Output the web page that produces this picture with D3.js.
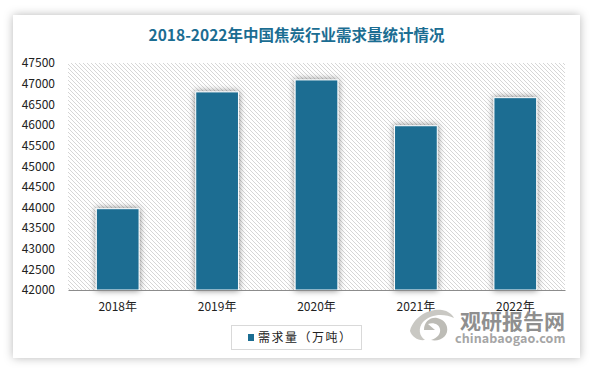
<!DOCTYPE html>
<html lang="zh">
<head>
  <meta charset="UTF-8">
  <title>2018-2022年中国焦炭行业需求量统计情况</title>
  <script src="https://d3js.org/d3.v7.min.js"></script>
  <style>
    html, body { margin: 0; padding: 0; background: #fff; overflow: hidden; }
    svg { display: block; }
    text { font-family: "Noto Sans CJK SC", "Noto Sans", sans-serif; }
  </style>
</head>
<body>
<script>
  const titleText = '2018-2022年中国焦炭行业需求量统计情况';
  const years = ['2018年', '2019年', '2020年', '2021年', '2022年'];
  const demand = [43970, 46800, 47090, 45980, 46660];
  const yTicks = [42000, 42500, 43000, 43500, 44000, 44500, 45000, 45500, 46000, 46500, 47000, 47500];
  const seriesName = '需求量（万吨）';

  const width = 593, height = 373;
  const plot = {left: 68, right: 565, top: 63, bottom: 290};
  const blue = '#1b6d92';

  const svg = d3.select('body').append('svg').attr('width', width).attr('height', height);
  const defs = svg.append('defs');

  // soft shadows for the card and the bars
  const cardShadow = defs.append('filter').attr('id', 'cardShadow')
    .attr('x', '-5%').attr('y', '-8%').attr('width', '110%').attr('height', '116%');
  cardShadow.append('feDropShadow').attr('dx', 0).attr('dy', 0)
    .attr('stdDeviation', 5).attr('flood-color', '#000').attr('flood-opacity', 0.28);

  const barShadow = defs.append('filter').attr('id', 'barShadow')
    .attr('x', '-30%').attr('y', '-10%').attr('width', '160%').attr('height', '120%');
  barShadow.append('feDropShadow').attr('dx', 0).attr('dy', 0)
    .attr('stdDeviation', 3).attr('flood-color', '#000').attr('flood-opacity', 0.5);

  // diagonal hatch behind the bars
  const hatch = defs.append('pattern').attr('id', 'hatch').attr('patternUnits', 'userSpaceOnUse')
    .attr('width', 4).attr('height', 4);
  hatch.append('rect').attr('width', 4).attr('height', 4).attr('fill', '#fff');
  hatch.append('path').attr('d', 'M0,0 L4,4 M-1,3 L1,5 M3,-1 L5,1')
    .attr('stroke', '#d6d6d6').attr('stroke-width', 1).attr('fill', 'none');

  svg.append('rect').attr('x', 13).attr('y', 15).attr('width', 567).attr('height', 343)
    .attr('fill', '#fff').attr('filter', 'url(#cardShadow)');

  svg.append('text').attr('x', 296.5).attr('y', 41).attr('text-anchor', 'middle')
    .attr('font-size', 15.5).attr('font-weight', 700).attr('fill', blue).text(titleText);

  svg.append('rect').attr('x', plot.left).attr('y', plot.top)
    .attr('width', plot.right - plot.left).attr('height', plot.bottom - plot.top)
    .attr('fill', 'url(#hatch)');

  const x = d3.scaleBand().domain(years).range([plot.left, plot.right]).paddingInner(0.57).paddingOuter(0.285);
  const y = d3.scaleLinear().domain([42000, 47500]).range([plot.bottom, plot.top]);

  svg.append('g').selectAll('rect').data(demand).join('rect')
    .attr('x', (_, i) => x(years[i]))
    .attr('y', d => y(d))
    .attr('width', x.bandwidth())
    .attr('height', d => plot.bottom - y(d))
    .attr('fill', blue)
    .attr('stroke', '#fff')
    .attr('stroke-width', 1)
    .attr('filter', 'url(#barShadow)');

  const yAxis = svg.append('g').attr('transform', `translate(${plot.left},0)`)
    .call(d3.axisLeft(y).tickValues(yTicks).tickFormat(d3.format('d')).tickSize(0).tickPadding(13));
  yAxis.select('.domain').remove();

  const xAxis = svg.append('g').attr('transform', `translate(0,${plot.bottom})`)
    .call(d3.axisBottom(x).tickSize(0).tickPadding(12));
  xAxis.select('.domain').attr('stroke', '#8c8c8c').attr('stroke-width', 1.2);

  svg.selectAll('.tick text').attr('font-size', 12)
    .attr('font-family', '"Noto Sans CJK SC", sans-serif').attr('fill', '#222');

  // legend
  svg.append('rect').attr('x', 231.5).attr('y', 325.5).attr('width', 130).attr('height', 24)
    .attr('fill', '#fff').attr('stroke', '#d9d9d9');
  svg.append('rect').attr('x', 248).attr('y', 334).attr('width', 6).attr('height', 7).attr('fill', blue);
  svg.append('text').attr('x', 258).attr('y', 342).attr('font-size', 12).attr('letter-spacing', 1.5)
    .attr('fill', '#222').text(seriesName);

  // watermark
  const mark = svg.append('g');
  mark.append('path')
    .attr('d', 'M410,331 C413,318 428,308 442,310 C448,311 452,314 454,318 C444,313 430,314 423,322 C418,328 419,336 425,340 C418,341 412,337 410,331 Z')
    .attr('fill', '#c9c8c3');
  mark.append('path')
    .attr('d', 'M447,327 C449,336 440,342 431,340 C437,338 441,334 440,329 C439,324 433,322 428,324 L435,330 L424,330 C424,322 430,317 437,318 C442,319 446,322 447,327 Z')
    .attr('fill', '#bdbcb6');
  mark.append('text').attr('x', 460).attr('y', 329).attr('font-size', 21).attr('font-weight', 700)
    .attr('fill', '#8f8f8f').text('观研报告网');
  mark.append('text').attr('x', 455).attr('y', 343).attr('font-size', 12.5).attr('font-weight', 700)
    .attr('fill', '#a5a5a5').attr('letter-spacing', 0.1)
    .attr('font-family', '"Open Sans", sans-serif').text('chinabaogao.com');
</script>
</body>
</html>
